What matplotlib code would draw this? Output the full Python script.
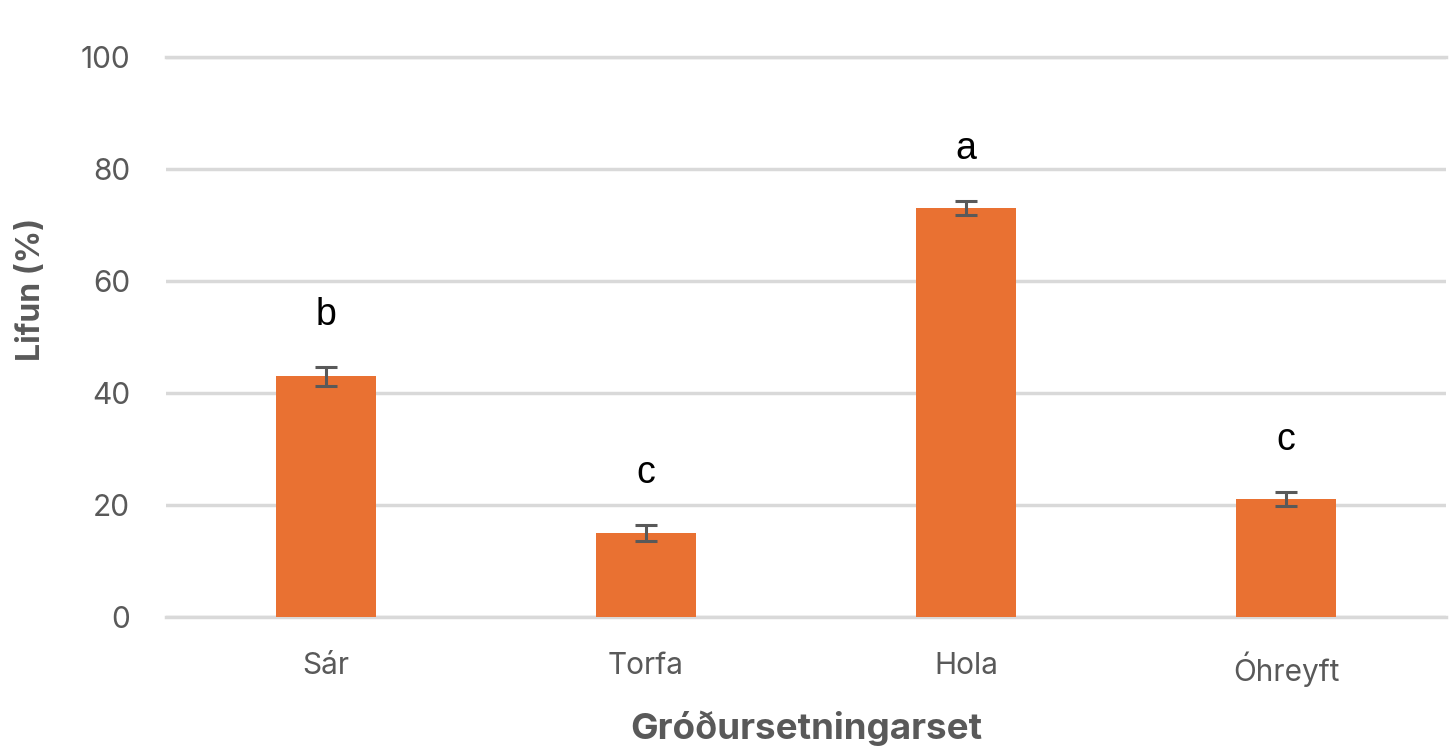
import matplotlib
matplotlib.use("Agg")
import matplotlib.pyplot as plt

# Survival by planting method
categories = ["Sár", "Torfa", "Hola", "Óhreyft"]
survival = [43, 15, 73, 21]
errors = [1.7, 1.4, 1.25, 1.25]
groups = ["b", "c", "a", "c"]
y_ticks = [0, 20, 40, 60, 80, 100]

bar_color = "#E97132"
grey_text = "#595959"
grid_color = "#D9D9D9"

plt.rcParams["font.family"] = ["Inter", "DejaVu Sans"]

fig = plt.figure(figsize=(14.5, 7.5), dpi=100)
ax = fig.add_axes([166 / 1450, 1 - 617 / 750, 1280 / 1450, 560 / 750])

x = range(len(categories))
ax.bar(x, survival, width=0.3125, color=bar_color, zorder=3)
ax.errorbar(x, survival, yerr=errors, fmt="none", ecolor=grey_text,
            elinewidth=2.2, capsize=8, capthick=2.2, zorder=4)

for xi, val, err, g in zip(x, survival, errors, groups):
    ax.text(xi, val + err + 7.5, g, ha="center", va="baseline",
            fontsize=27, color="black", family=["Liberation Sans", "DejaVu Sans"])

ax.set_xlim(-0.5, len(categories) - 0.5)
ax.set_ylim(0, 100)
ax.set_yticks(y_ticks)
ax.set_xticks(list(x))
ax.set_xticklabels(categories)
ax.yaxis.grid(True, color=grid_color, linewidth=2.5, zorder=0)
ax.axhline(0, color=grid_color, linewidth=2.5, zorder=2, clip_on=False)
ax.axhline(100, color=grid_color, linewidth=2.5, zorder=2, clip_on=False)
ax.set_axisbelow(True)
for side in ["top", "right", "left", "bottom"]:
    ax.spines[side].set_visible(False)
ax.tick_params(axis="y", length=0, pad=26, labelsize=21.5, labelcolor=grey_text)
ax.tick_params(axis="x", length=0, pad=25, labelsize=21.5, labelcolor=grey_text)

fig.text(806 / 1450, 1 - 728 / 750, "Gróðursetningarset", ha="center", va="center",
         fontsize=26.5, fontweight="bold", color=grey_text)
fig.text(31 / 1450, 1 - 289 / 750, "Lifun (%)", ha="center", va="center",
         rotation=90, fontsize=23, fontweight="bold", color=grey_text)

fig.savefig("out.png", dpi=100, facecolor="white")
